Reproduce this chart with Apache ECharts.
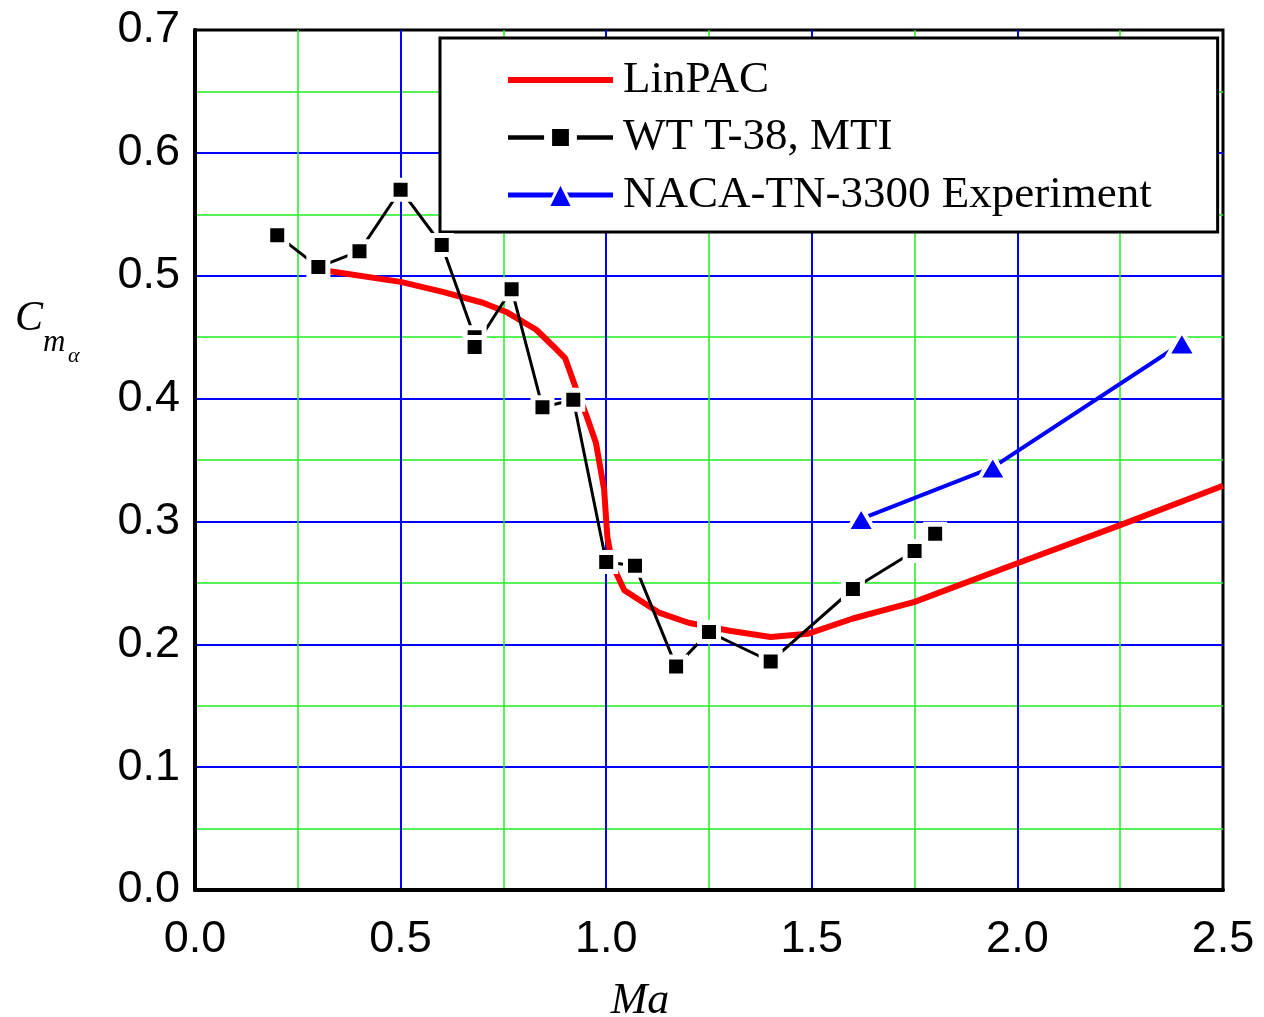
<!DOCTYPE html>
<html>
<head>
<meta charset="utf-8">
<script src="https://cdn.jsdelivr.net/npm/echarts@6/dist/echarts.min.js"></script>
<style>html,body{margin:0;padding:0;background:#fff;}#c{width:1264px;height:1017px;}</style>
</head>
<body>
<div id="c"></div>
<script>
// ---- data ----
var linpacMa = [0.30,0.50,0.60,0.70,0.76,0.83,0.87,0.90,0.93,0.95,0.975,0.995,1.00,1.003,1.013,1.02,1.044,1.09,1.13,1.20,1.30,1.40,1.49,1.60,1.75,2.00,2.25,2.50];
var linpacCm = [0.505,0.495,0.487,0.478,0.470,0.456,0.443,0.433,0.405,0.388,0.364,0.326,0.301,0.287,0.269,0.261,0.244,0.234,0.2255,0.2175,0.211,0.206,0.2085,0.221,0.2345,0.266,0.297,0.329];

var wtMa = [0.20,0.30,0.40,0.50,0.60,0.68,0.68,0.77,0.845,0.92,1.00,1.07,1.17,1.25,1.40,1.60,1.75,1.80];
var wtCm = [0.533,0.507,0.520,0.570,0.525,0.450,0.442,0.489,0.393,0.399,0.267,0.264,0.182,0.210,0.186,0.245,0.276,0.290];

var nacaMa = [1.62,1.94,2.40];
var nacaCm = [0.302,0.344,0.445];

var seriesNames = ['LinPAC', 'WT T-38, MTI', 'NACA-TN-3300 Experiment'];

function pairs(xs, ys){ return xs.map(function(x,i){ return [x, ys[i]]; }); }

var chart = echarts.init(document.getElementById('c'), null, {renderer:'canvas'});
var tickFont = {fontFamily:'Liberation Sans, Arial', fontSize:45, color:'#000'};
var option = {
  animation:false,
  backgroundColor:'#fff',
  grid:{left:195, right:41, top:30, bottom:127, show:true, borderColor:'#000', borderWidth:3, backgroundColor:'transparent'},
  xAxis:{
    type:'value', min:0, max:2.5, interval:0.5,
    axisLine:{show:true, onZero:false, lineStyle:{color:'#000', width:4}},
    axisTick:{show:false},
    minorTick:{show:false, splitNumber:2},
    axisLabel:Object.assign({margin:27, formatter:function(v){return v.toFixed(1);}}, tickFont),
    splitLine:{show:true, showMinLine:false, showMaxLine:false, lineStyle:{color:'#0000ff', width:2}},
    minorSplitLine:{show:true, lineStyle:{color:'#22ee22', width:1.5}}
  },
  yAxis:{
    type:'value', min:0, max:0.7, interval:0.1,
    axisLine:{show:true, onZero:false, lineStyle:{color:'#000', width:4}},
    axisTick:{show:false},
    minorTick:{show:false, splitNumber:2},
    axisLabel:Object.assign({margin:15, formatter:function(v){return v.toFixed(1);}}, tickFont),
    splitLine:{show:true, showMinLine:false, showMaxLine:false, lineStyle:{color:'#0000ff', width:2}},
    minorSplitLine:{show:true, lineStyle:{color:'#22ee22', width:1.5}}
  },
  legend:{
    left:440, top:38, orient:'vertical', selectedMode:false,
    backgroundColor:'#fff', borderColor:'#000', borderWidth:3,
    padding:[19,66,14,65],
    itemWidth:105, itemHeight:31, itemGap:11.5,
    textStyle:{fontFamily:'Liberation Serif, Times New Roman', fontSize:45, color:'#000', lineHeight:46, padding:[0,0,0,5]},
    data:[
      {name:seriesNames[0], itemStyle:{opacity:0, borderWidth:0}, lineStyle:{width:6, color:'#ff0000'}},
      {name:seriesNames[1], itemStyle:{color:'#000', borderColor:'#fff', borderWidth:8}, lineStyle:{width:4.5, color:'#000'}},
      {name:seriesNames[2], itemStyle:{color:'#0000ff', borderColor:'#fff', borderWidth:3}, lineStyle:{width:5, color:'#0000ff'}}
    ]
  },
  graphic:[
    {type:'text', x:640, y:1001, style:{text:'Ma', fontFamily:'Liberation Serif', fontStyle:'italic', fontSize:44, fill:'#000', textAlign:'center', textVerticalAlign:'middle'}},
    {type:'text', x:15, y:319, style:{text:'C', fontFamily:'Liberation Serif', fontStyle:'italic', fontSize:42, fill:'#000', textAlign:'left', textVerticalAlign:'middle'}},
    {type:'text', x:43, y:343, style:{text:'m', fontFamily:'Liberation Serif', fontStyle:'italic', fontSize:31, fill:'#000', textAlign:'left', textVerticalAlign:'middle'}},
    {type:'text', x:68, y:356, style:{text:'α', fontFamily:'Liberation Serif', fontStyle:'italic', fontSize:22, fill:'#000', textAlign:'left', textVerticalAlign:'middle'}}
  ],
  series:[
    {name:seriesNames[0], type:'line', data:pairs(linpacMa, linpacCm), symbol:'none', smooth:false,
     lineStyle:{color:'#ff0000', width:6}, itemStyle:{color:'#ff0000'}, z:3},
    {name:seriesNames[1], type:'line', data:pairs(wtMa, wtCm), symbol:'rect', symbolSize:19,
     lineStyle:{color:'#000', width:3}, itemStyle:{color:'#000', borderColor:'#fff', borderWidth:5}, z:4},
    {name:seriesNames[2], type:'line', data:pairs(nacaMa, nacaCm), symbol:'triangle', symbolSize:[28,24],
     lineStyle:{color:'#0000ff', width:4}, itemStyle:{color:'#0000ff', borderColor:'#fff', borderWidth:4}, z:4}
  ]
};
chart.setOption(option);
</script>
</body>
</html>
